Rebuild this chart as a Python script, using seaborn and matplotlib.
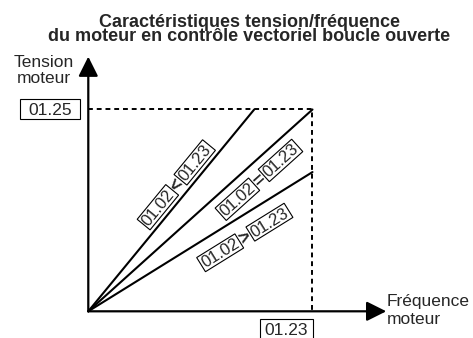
import numpy as np
import pandas as pd
import matplotlib.pyplot as plt
from matplotlib.path import Path
import seaborn as sns

# axes are normalised: 1.0 = base frequency (01.23) and rated voltage (01.25)
curve_names = ['01.02 < 01.23', '01.02 = 01.23', '01.02 > 01.23']
end_freq = [0.74, 1.0, 1.0]
end_volt = [1.0, 1.0, 0.69]
operators = ['<', '=', '>']
param_label = '01.02'
freq_label = '01.23'
volt_label = '01.25'
rated_freq = 1.0
rated_volt = 1.0

title_lines = ['Caractéristiques tension/fréquence',
               'du moteur en contrôle vectoriel boucle ouverte']
y_label_lines = ['Tension', 'moteur']
x_label_lines = ['Fréquence', 'moteur']

# where each rotated label sits: distance along the curve and offset from it (pixels)
label_along = [153.6, 214.8, 171.9]
label_offset = [11.5, -17.3, -20.7]
label_gap = 29

sns.set_style('white')
plt.rcParams['font.family'] = ['Liberation Sans', 'DejaVu Sans']


def make_box(px, top, bottom):
    # square box with separate padding left/right, top and bottom (in font sizes)
    def style(x0, y0, width, height, mutation_size):
        xa = x0 - px * mutation_size
        xb = x0 + width + px * mutation_size
        ya = y0 - bottom * mutation_size
        yb = y0 + height + top * mutation_size
        return Path([(xa, ya), (xb, ya), (xb, yb), (xa, yb), (xa, ya)], closed=True)
    return dict(boxstyle=style, facecolor='white', edgecolor='black', linewidth=0.8)


volt_box = make_box(0.48, 0.24, 0.08)
freq_box = make_box(0.30, 0.24, 0.08)
small_box = make_box(0.10, 0.10, 0.0)

fig = plt.figure(figsize=(4.73, 3.38), dpi=100)
ax = fig.add_axes([0, 0, 1, 1])
ax.set_xlim(-0.3938, 1.7159)
ax.set_ylim(-0.1323, 1.5426)
ax.axis('off')

# the three V/f lines
rows = []
for name, f, v in zip(curve_names, end_freq, end_volt):
    rows.append({'curve': name, 'freq': 0.0, 'volt': 0.0})
    rows.append({'curve': name, 'freq': f, 'volt': v})
df = pd.DataFrame(rows)
sns.lineplot(data=df, x='freq', y='volt', units='curve', estimator=None,
             color='black', linewidth=1.5, sort=False, ax=ax)

# dashed guides at rated voltage / base frequency
sns.lineplot(x=[0, rated_freq, rated_freq], y=[rated_volt, rated_volt, 0],
             estimator=None, sort=False, color='black', linewidth=1.4,
             linestyle=(0, (2.5, 2)), ax=ax)

# axes with arrow heads
arrow = dict(arrowstyle='-|>,head_length=0.6,head_width=0.3', color='black',
             lw=1.6, shrinkA=0, shrinkB=0, mutation_scale=20)
ax.annotate('', xy=(1.329, 0), xytext=(0, 0), arrowprops=arrow)
ax.annotate('', xy=(0, 1.262), xytext=(0, 0), arrowprops=arrow)

# parameter boxes on the axes
ax.annotate(volt_label, xy=(0, rated_volt), xytext=(-38.3, -1), textcoords='offset pixels',
            ha='center', va='center', fontsize=12.5, bbox=volt_box)
ax.annotate(freq_label, xy=(rated_freq, 0), xytext=(-26, -19), textcoords='offset pixels',
            ha='center', va='center', fontsize=12.5, bbox=freq_box)

# rotated labels along each line
inv = ax.transData.inverted()
for f, v, op, along, off in zip(end_freq, end_volt, operators, label_along, label_offset):
    p0 = ax.transData.transform((0, 0))
    p1 = ax.transData.transform((f, v))
    u = (p1 - p0) / np.hypot(*(p1 - p0))
    n = np.array([-u[1], u[0]])
    ang = np.degrees(np.arctan2(u[1], u[0]))
    for txt, shift, bold in [(param_label, -label_gap, False), (op, 0, True),
                             (freq_label, label_gap, False)]:
        pos = inv.transform(p0 + u * (along + shift) + n * off)
        ax.text(pos[0], pos[1], txt, rotation=ang, rotation_mode='anchor',
                ha='center', va='center', fontsize=13.5 if bold else 12,
                fontweight='bold' if bold else 'normal',
                bbox=None if bold else small_box)

# title and axis names
W, H = 473, 338
fig.text(249.5 / W, 1 - 26.7 / H, title_lines[0], ha='center', va='baseline',
         fontsize=13, fontweight='bold')
fig.text(249.5 / W, 1 - 41 / H, title_lines[1], ha='center', va='baseline',
         fontsize=13, fontweight='bold')
fig.text(44 / W, 1 - 67 / H, y_label_lines[0], ha='center', va='baseline', fontsize=12.5)
fig.text(44 / W, 1 - 83 / H, y_label_lines[1], ha='center', va='baseline', fontsize=12.5)
fig.text(387 / W, 1 - 306 / H, x_label_lines[0], ha='left', va='baseline', fontsize=12.5)
fig.text(387 / W, 1 - 323.5 / H, x_label_lines[1], ha='left', va='baseline', fontsize=12.5)

plt.savefig('out.png', dpi=100)
